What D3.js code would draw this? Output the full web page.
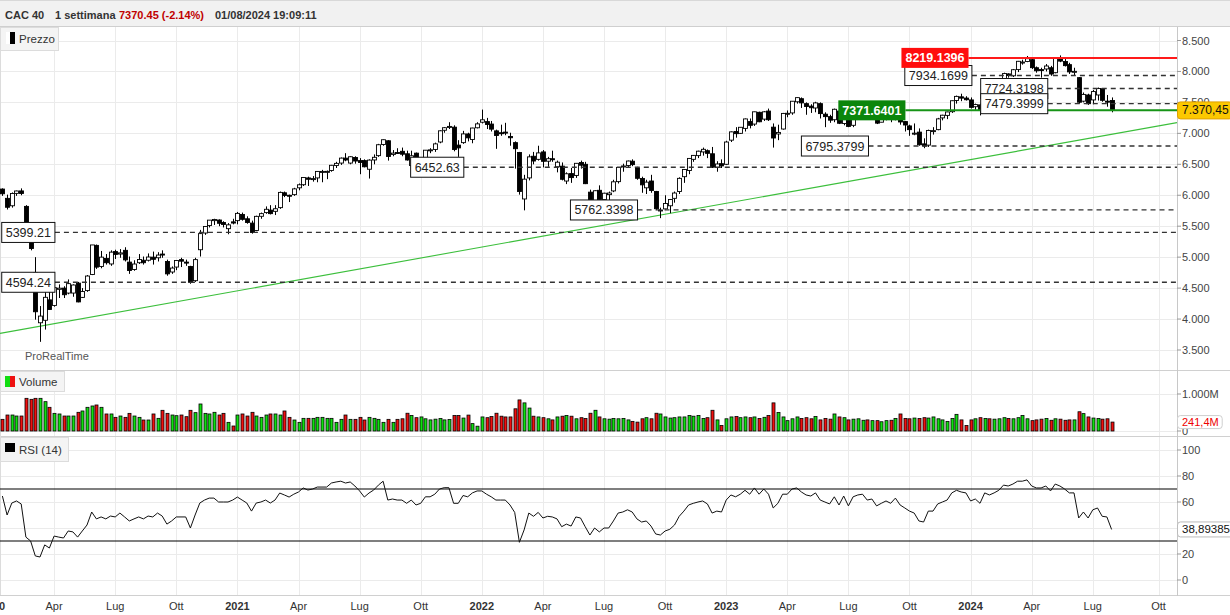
<!DOCTYPE html>
<html><head><meta charset="utf-8">
<script src="https://cdn.jsdelivr.net/npm/d3@7"></script>
<style>
body{margin:0;background:#fff}
svg{display:block}
text{font-family:"Liberation Sans",Arial,Helvetica,sans-serif}
</style>
</head><body>
<svg id="c" width="1230" height="615"></svg>
<script>
// ---------------- DATA ----------------
const firstWeek = "2020-01-20";
const lastWeek = "2024-07-29";

const opens = [
// 2020
6100,5950,5830,6030,6070,5820,5250,4750,3940,3980,
4310,4220,4480,4500,4420,4420,4580,4350,4460,4720,
5190,4850,4980,4890,5090,5050,5110,4920,4800,4910,
4950,4950,5000,4990,5050,4930,4760,4840,4960,4920,
4850,4620,5120,5390,5510,5590,5600,5560,5460,5570,
// 2021
5590,5690,5620,5550,5430,5660,5720,5760,5740,5800,
6040,6000,6010,6120,6170,6280,6260,6280,6380,6380,
6400,6480,6520,6600,6520,6610,6560,6560,6420,6570,
6640,6820,6880,6660,6690,6710,6670,6480,6680,6520,
6550,6720,6740,6860,7050,7110,7100,6810,6850,6990,
6900,7090,
// 2022
7180,7190,7150,7040,7010,7020,6950,6850,6690,5940,
6280,6630,6580,6700,6550,6590,6460,6470,6230,6350,
6320,6530,6500,6050,5910,6080,5930,6010,6070,6220,
6460,6480,6550,6440,6270,6120,6230,6060,5760,5780,
5830,5950,6060,6300,6400,6580,6640,6700,6720,6670,
6450,6510,
// 2023
6500,6890,7030,7000,7080,7190,7150,7340,7230,7360,
7100,6990,7070,7320,7330,7510,7560,7480,7440,7410,
7480,7310,7270,7220,7360,7160,7400,7130,7350,7400,
7470,7320,7330,7180,7230,7290,7250,7360,7190,7120,
6990,7020,6830,6810,7030,7060,7250,7290,7350,7530,
7590,7570,
// 2024
7540,7430,7460,7400,7630,7600,7650,7760,7960,7930,
8030,8150,8160,8190,8060,8030,8040,8060,7980,8220,
8160,8110,7990,7900,7520,7620,7540,7620,7720,7520,
7530
];

const highs = [
// 2020
6111,6010,6045,6075,6111,5840,5450,5000,4210,4520,
4440,4550,4560,4530,4640,4560,4600,4500,4710,5197,
5204,5100,5050,5110,5120,5130,5160,5010,4950,5050,
5010,5060,5090,5080,5110,4960,4850,4950,4990,4960,
4860,4990,5440,5500,5600,5620,5610,5580,5550,5620,
// 2021
5730,5720,5660,5590,5670,5720,5820,5840,5840,6060,
6060,6010,6120,6190,6290,6300,6310,6390,6410,6400,
6490,6540,6610,6680,6630,6630,6600,6580,6580,6660,
6830,6900,6890,6730,6760,6770,6720,6720,6690,6600,
6730,6760,6850,7050,7100,7180,7130,6890,7040,7010,
7090,7180,
// 2022
7384,7250,7200,7060,7140,7170,7010,6870,6700,6330,
6660,6700,6800,6730,6620,6720,6560,6530,6370,6440,
6520,6560,6540,6090,6080,6160,6040,6060,6250,6450,
6510,6560,6580,6460,6300,6250,6330,6070,5800,6000,
5940,6060,6290,6420,6600,6650,6720,6770,6740,6780,
6550,6580,
// 2023
6880,7030,7100,7100,7240,7240,7350,7350,7360,7400,
7160,7140,7330,7370,7520,7580,7580,7500,7470,7510,
7500,7340,7300,7400,7370,7410,7420,7400,7440,7490,
7520,7400,7370,7310,7370,7300,7390,7370,7200,7140,
7160,7080,6920,7060,7100,7250,7300,7350,7530,7610,
7640,7600,
// 2024
7580,7480,7480,7640,7670,7670,7780,7980,7970,8040,
8170,8190,8250,8230,8080,8060,8120,8090,8220,8259,
8200,8140,8060,7910,7660,7640,7700,7740,7720,7620,
7580
];

const lows = [
// 2020
5990,5770,5800,5990,6000,5262,5110,3990,3632,3830,
4150,4200,4340,4340,4400,4360,4270,4340,4440,4710,
4810,4820,4880,4860,4970,4990,4930,4730,4780,4890,
4880,4930,4880,4930,4990,4700,4730,4790,4840,4860,
4570,4600,5010,5360,5480,5520,5500,5480,5370,5530,
// 2021
5530,5590,5540,5380,5420,5620,5700,5690,5680,5780,
5970,5890,5990,6080,6150,6150,6220,6210,6210,6260,
6380,6440,6490,6550,6500,6510,6340,6450,6270,6500,
6620,6800,6560,6630,6670,6630,6560,6420,6460,6400,
6510,6680,6700,6840,7010,7070,6710,6620,6830,6870,
6840,7080,
// 2022
7160,7070,7030,6750,6960,6970,6800,6430,6010,5756,
6240,6500,6560,6450,6460,6540,6370,6240,6180,6200,
6280,6430,6180,5830,5880,5880,5760,5850,6050,6190,
6380,6450,6470,6250,6040,6020,6040,5760,5630,5770,
5710,5880,6020,6200,6340,6540,6600,6640,6600,6440,
6380,6440,
// 2023
6490,6860,6930,6990,7030,7080,7120,7180,7200,7200,
6770,6890,7060,7260,7300,7480,7410,7300,7330,7340,
7240,7100,7170,7180,7150,7130,7100,7100,7290,7280,
7290,7250,7150,7180,7210,7180,7210,7140,7030,6960,
6970,6800,6760,6780,6980,7050,7210,7230,7330,7480,
7520,7530,
// 2024
7400,7380,7290,7380,7580,7580,7640,7700,7900,7910,
7990,8110,8150,8040,7980,7900,8000,7930,7970,8150,
8080,7960,7930,7480,7500,7460,7470,7530,7510,7430,
7340
];

const closes = [
// 2020
6024,5806,6029,6069,6029,5310,5139,4118,4048,4351,
4154,4507,4499,4393,4572,4550,4277,4445,4695,5197,
4839,5000,4910,5081,5044,5069,4956,4784,4889,4962,
4910,5002,4965,5034,5039,4730,4824,4946,4935,4909,
4594,4960,5380,5496,5598,5609,5547,5528,5522,5551,
// 2021
5707,5611,5559,5399,5659,5703,5773,5703,5782,6046,
5997,5989,6103,6169,6287,6258,6269,6385,6385,6386,
6484,6515,6600,6569,6622,6553,6530,6460,6568,6613,
6816,6897,6626,6681,6689,6663,6570,6638,6518,6560,
6728,6734,6830,7041,7091,7112,6739,6765,6991,6927,
7086,7153,
// 2022
7219,7143,7068,6965,7006,7011,6929,6752,6061,6260,
6620,6553,6684,6548,6590,6581,6534,6258,6347,6285,
6516,6485,6187,5882,6073,5931,6033,6036,6217,6449,
6473,6553,6495,6274,6168,6212,6077,5783,5762,5866,
5931,6036,6273,6416,6595,6644,6712,6742,6677,6453,
6505,6474,
// 2023
6860,7024,6995,7098,7233,7130,7348,7187,7348,7220,
6925,7015,7322,7324,7519,7577,7492,7433,7414,7492,
7319,7270,7213,7389,7163,7400,7112,7373,7432,7477,
7316,7341,7165,7229,7296,7241,7379,7184,7135,7060,
7003,6816,6795,7047,7044,7234,7293,7346,7527,7597,
7569,7543,
// 2024
7420,7465,7372,7635,7592,7648,7768,7966,7934,8028,
8164,8152,8206,8061,8011,8022,8088,7958,8219,8167,
8094,7993,8002,7503,7629,7479,7675,7724,7534,7517,
7370.45
];

// weekly volume, millions
const volumes = [
// 2020
315,432,432,405,405,883,856,883,883,793,
640,477,460,405,405,405,505,541,640,676,
703,640,460,460,369,405,369,477,405,369,
297,297,460,342,559,477,432,414,432,387,
559,496,730,477,460,505,432,477,234,135,
// 2021
432,460,405,505,405,369,432,460,460,432,
541,369,297,234,342,342,342,369,369,342,
342,234,315,432,315,315,369,297,369,342,
315,234,315,234,315,330,480,420,360,380,
330,300,320,340,300,310,420,420,350,430,
200,130,
// 2022
380,360,390,480,400,380,380,600,840,760,
620,400,380,360,330,300,380,400,420,400,
330,360,340,480,560,380,330,320,340,330,
340,300,260,240,330,360,330,480,460,380,
350,360,380,380,420,400,420,340,360,560,
300,150,
// 2023
330,380,390,360,380,360,380,340,370,420,
760,500,380,280,330,380,340,360,330,390,
300,340,320,460,380,360,300,320,330,290,
300,280,280,250,280,290,340,460,340,330,
350,340,360,350,380,330,300,260,340,450,
300,150,
// 2024
300,330,360,340,330,320,330,360,340,330,
360,420,330,280,300,320,340,290,330,320,
290,300,300,520,470,380,350,340,320,330,
241.4
];

const rsi = [
// 2020
64.6,50,59.2,60.8,58.5,33,30,18.5,17.7,27,
24.6,33.8,33,32.3,37.7,37,33,37.7,42.3,52.3,
47,48.5,47,49.2,48.5,51.5,48.5,45.4,47,48.5,
47,49.2,48.5,51.5,49.2,43,45.4,48.5,48.5,48.5,
40,50,59.2,61.5,63,63,60,60,60,61.5,
// 2021
63.8,61.5,59.2,53,59.2,60,61.5,59.2,61.5,66.9,
65.4,63.8,66,67.7,70.8,69.2,70,71.5,71.5,71.5,
74.6,75.4,76,74.6,75.4,72.3,68.5,63.8,66.9,69.2,
73,76,61.5,62.3,61.5,61.5,59,61.5,57.7,59,
64,64,66,70,71,71,59,59,65,64,
67,68.5,
// 2022
68.5,66,64,61.5,61.5,61.5,57.7,52,29,38.5,
51.5,49,52,47.7,49,48.5,47,41,43,41.5,
48.5,47.7,41,34.6,40,37,40,40,45.4,51.5,
52.3,54,52.3,47,44.6,45.4,41.5,35.4,34.6,37.7,
39,42.3,49,53,57.7,59,60,60.8,58.5,51.5,
53,52.3,
// 2023
61.5,65.4,64,66,69,66,70.8,66,70,66,
55.4,59,66,66,70,70.8,67.7,65.4,64.6,67,
61.5,60,58.5,64,57.7,64.6,57,64,65.4,66,
61.5,62.3,57,59,60.8,59,63,57.7,55.4,53,
51.5,45.4,44.6,53,53,58.5,60,61.5,67,69,
67.7,67,
// 2024
60.8,62.3,59,67,65.4,67,69,73,72.3,73.8,
76,76,77,72.3,70.8,70.8,72.3,68.5,73.8,72.3,
70,67,67,47.7,52.3,47.7,54,55.4,49,48.5,
38.89385
];

const priceTicks = [3500,4000,4500,5000,5500,6000,6500,7000,7500,8000,8500];
const volumeTicks = [0,1000];
const rsiTicks = [0,20,40,60,80,100];
const rsiTickLabels = ["0","20","","60","80","100"]; // 40 is hidden behind the value badge
const rsiBands = [70,30];
const years = [2020,2021,2022,2023,2024];
const quarterMonthNames = ["Apr","Lug","Ott"];

// horizontal levels drawn on the chart
const levelLabels = ["7934.1699","7724.3198","7479.3999","6795.3799","6452.63","5762.3398","5399.21","4594.24"];
const levelLabelDates = ["2023-09-25","2024-01-16","2024-01-16","2023-04-24","2021-09-19","2022-05-15","2020-01-19","2020-01-19"];
const resistanceLabel = "8219.1396", resistanceDate = "2023-09-20";
const supportLabel = "7371.6401", supportDate = "2023-06-18";
const trendDates = ["2020-01-17","2024-10-31"];
const trendPrices = [3770, 7167];

const lastPrice = 7370.45, lastVolume = 241.4, lastRsi = 38.89385;

// ---------------- CHART ----------------
const svg = d3.select("#c");
const plotR = 1177;
const P = {top:27, bottom:370}, V = {top:372, bottom:436}, R = {top:437, bottom:595};
const itFmt = d3.formatLocale({decimal:",", thousands:".", grouping:[3], currency:["€",""]});
const fInt = itFmt.format(",.0f");
const utc = s => new Date(s + "T00:00:00Z");

const weeks = d3.utcMonday.range(utc(firstWeek), d3.utcDay.offset(utc(lastWeek), 1));
const n = Math.min(weeks.length, opens.length, highs.length, lows.length, closes.length);
const data = d3.range(n).map(i => ({date:weeks[i], o:opens[i], h:highs[i], l:lows[i], c:closes[i], v:volumes[i], r:rsi[i]}));

const x = d3.scaleUtc().domain([new Date(Date.UTC(2020,2,16)), new Date(Date.UTC(2024,9,7))]).range([40, 1158.6]);
const yP = d3.scaleLinear().domain([3500,8500]).range([350,40.5]);
const yV = d3.scaleLinear().domain([0,1000]).range([431,394]);
const yR = d3.scaleLinear().domain([0,100]).range([580,450]);

// background / header
svg.append("rect").attr("width",1230).attr("height",615).attr("fill","#fff");
svg.append("rect").attr("x",0).attr("y",0).attr("width",1230).attr("height",26).attr("fill","#f1f1f1");
svg.append("line").attr("x1",0).attr("x2",1230).attr("y1",0.5).attr("y2",0.5).attr("stroke","#d8d8d8");
svg.append("line").attr("x1",0).attr("x2",1230).attr("y1",26.5).attr("y2",26.5).attr("stroke","#cfcfcf");
const hdr = svg.append("text").attr("y",19).attr("font-size",11).attr("font-weight","bold").attr("fill","#333");
hdr.append("tspan").attr("x",5).text("CAC 40");
hdr.append("tspan").attr("x",55).text("1 settimana");
hdr.append("tspan").attr("x",119).attr("fill","#c00000").text("7370.45 (-2.14%)");
hdr.append("tspan").attr("x",215).text("01/08/2024 19:09:11");

// clip paths
const defs = svg.append("defs");
[["clipP",P],["clipV",V],["clipR",R]].forEach(([id,p]) => {
  defs.append("clipPath").attr("id",id).append("rect").attr("x",0).attr("y",p.top).attr("width",plotR).attr("height",p.bottom-p.top);
});

// grid
const grid = svg.append("g").attr("stroke","#ebebeb").attr("stroke-width",1);
const quarterDates = [];
years.forEach(yv => [0,3,6,9].forEach(m => {
  const d = d3.utcMonday.ceil(new Date(Date.UTC(yv,m,1)));
  quarterDates.push({d, label: m===0 ? String(yv) : quarterMonthNames[m/3-1], year: m===0});
}));
quarterDates.forEach(q => {
  const xx = Math.round(x(q.d))+0.5;
  if (xx > 0 && xx < plotR) grid.append("line").attr("x1",xx).attr("x2",xx).attr("y1",P.top).attr("y2",R.bottom);
});
priceTicks.forEach(t => grid.append("line").attr("x1",0).attr("x2",plotR).attr("y1",Math.round(yP(t))+0.5).attr("y2",Math.round(yP(t))+0.5));
volumeTicks.forEach(t => grid.append("line").attr("x1",0).attr("x2",plotR).attr("y1",Math.round(yV(t))+0.5).attr("y2",Math.round(yV(t))+0.5));
rsiTicks.forEach(t => grid.append("line").attr("x1",0).attr("x2",plotR).attr("y1",Math.round(yR(t))+0.5).attr("y2",Math.round(yR(t))+0.5));

// panel separators & axis line
[370.5, 436.5, 595.5].forEach(yy => svg.append("line").attr("x1",0).attr("x2",1230).attr("y1",yy).attr("y2",yy).attr("stroke","#d0d0d0"));
svg.append("line").attr("x1",plotR+0.5).attr("x2",plotR+0.5).attr("y1",P.top).attr("y2",R.bottom+1).attr("stroke","#c8c8c8");
svg.append("line").attr("x1",0.5).attr("x2",0.5).attr("y1",P.top).attr("y2",R.bottom).attr("stroke","#dcdcdc");

// ----- price panel -----
const gP = svg.append("g").attr("clip-path","url(#clipP)");

// trendline
const tx = trendDates.map(d => x(utc(d))), ty = trendPrices.map(p => yP(p));
const slope = (ty[1]-ty[0])/(tx[1]-tx[0]);
gP.append("line").attr("x1",0).attr("y1",ty[0]+slope*(0-tx[0])).attr("x2",plotR).attr("y2",ty[0]+slope*(plotR-tx[0]))
  .attr("stroke","#3cbf3c").attr("stroke-width",1.1);

// candles
const cw = 3;
const candles = gP.append("g").selectAll("g").data(data).join("g");
candles.append("line")
  .attr("x1",d=>Math.round(x(d.date))+0.5).attr("x2",d=>Math.round(x(d.date))+0.5)
  .attr("y1",d=>yP(d.h)).attr("y2",d=>yP(d.l)).attr("stroke","#000").attr("stroke-width",1);
candles.append("rect")
  .attr("x",d=>Math.round(x(d.date))+0.5-cw/2-0.5).attr("width",cw+1)
  .attr("y",d=>yP(Math.max(d.o,d.c))).attr("height",d=>Math.max(1,Math.abs(yP(d.o)-yP(d.c))))
  .attr("fill",d=>d.c>=d.o?"#fff":"#000").attr("stroke","#000").attr("stroke-width",0.9);

// levels
const levelG = gP.append("g");
const labelG = svg.append("g").attr("font-size",12.5);
function boxLabel(txt, dateStr, yc, opt) {
  const x0 = x(utc(dateStr));
  const t = labelG.append("text").attr("x",x0+4).attr("y",yc+4.5).text(txt)
    .attr("fill",opt.color).attr("font-weight",opt.bold?"bold":"normal");
  const w = t.node().getComputedTextLength() + 8;
  labelG.insert("rect", () => t.node()).attr("x",x0).attr("y",yc-10).attr("width",w).attr("height",20)
    .attr("fill",opt.fill).attr("stroke",opt.stroke||"none").attr("stroke-width",1);
  return x0 + w;
}
levelLabels.forEach((lab,i) => {
  const v = +lab, yy = yP(v);
  const xe = boxLabel(lab, levelLabelDates[i], yy, {color:"#222", fill:"#fff", stroke:"#111"});
  levelG.append("line").attr("x1",xe).attr("x2",plotR).attr("y1",yy).attr("y2",yy)
    .attr("stroke","#333").attr("stroke-width",1.3).attr("stroke-dasharray","5,4");
});
{
  const yy = yP(+resistanceLabel);
  const xe = boxLabel(resistanceLabel, resistanceDate, yy, {color:"#fff", fill:"#ff0d0d", bold:true});
  levelG.append("line").attr("x1",xe).attr("x2",plotR).attr("y1",yy).attr("y2",yy).attr("stroke","#ff1a1a").attr("stroke-width",2);
}
{
  const yy = yP(+supportLabel);
  const xe = boxLabel(supportLabel, supportDate, yy, {color:"#fff", fill:"#0b860b", bold:true});
  levelG.append("line").attr("x1",xe).attr("x2",plotR).attr("y1",yy).attr("y2",yy).attr("stroke","#179417").attr("stroke-width",2);
}

svg.append("text").attr("x",25).attr("y",360).attr("font-size",11).attr("fill","#555").text("ProRealTime");

// ----- volume panel -----
const gV = svg.append("g").attr("clip-path","url(#clipV)");
gV.selectAll("rect").data(data).join("rect")
  .attr("x",d=>Math.round(x(d.date))+0.5-cw/2).attr("width",cw)
  .attr("y",d=>yV(d.v)).attr("height",d=>yV(0)-yV(d.v))
  .attr("fill",d=>d.c>=d.o?"#10e010":"#f01010").attr("stroke","#000").attr("stroke-width",0.8);

// ----- RSI panel -----
const gR = svg.append("g").attr("clip-path","url(#clipR)");
rsiBands.forEach(b => gR.append("line").attr("x1",0).attr("x2",plotR).attr("y1",yR(b)).attr("y2",yR(b)).attr("stroke","#000").attr("stroke-width",1.2));
gR.append("path").datum(data).attr("fill","none").attr("stroke","#111").attr("stroke-width",1)
  .attr("d", d3.line().x(d=>x(d.date)).y(d=>yR(d.r)));

// ----- right axes -----
const ax = svg.append("g").attr("font-size",11).attr("fill","#444");
function tick(yy, label) {
  ax.append("line").attr("x1",plotR).attr("x2",plotR+4).attr("y1",yy).attr("y2",yy).attr("stroke","#999");
  if (label) ax.append("text").attr("x",plotR+5).attr("y",yy+4).text(label);
}
priceTicks.forEach(t => tick(yP(t), fInt(t)));
volumeTicks.forEach(t => tick(yV(t), t===0 ? "0" : fInt(t)+"M"));
rsiTicks.forEach((t,i) => tick(yR(t), rsiTickLabels[i]));

function badge(yc, label, opt) {
  const g = svg.append("g");
  const t = g.append("text").attr("x",plotR+5).attr("y",yc+4).attr("font-size",opt.size).attr("fill",opt.color).text(label);
  const w = t.node().getComputedTextLength() + 8;
  g.insert("rect", () => t.node()).attr("x",plotR+0.5).attr("y",yc-opt.h/2).attr("width",w).attr("height",opt.h)
    .attr("rx",3).attr("fill",opt.fill).attr("stroke",opt.stroke);
}
badge(yP(lastPrice), itFmt.format(",.2f")(lastPrice), {size:12, color:"#111", fill:"#fcc800", stroke:"#e0a000", h:17});
badge(yV(lastVolume), itFmt.format(",.1f")(lastVolume)+"M", {size:11, color:"#ee0000", fill:"#fff", stroke:"#cfcfcf", h:13});
badge(yR(lastRsi), itFmt.format(",.5f")(lastRsi), {size:11.5, color:"#111", fill:"#fff", stroke:"#bbb", h:15});

// ----- x axis labels -----
const xl = svg.append("g").attr("font-size",11).attr("fill","#333").attr("text-anchor","middle");
quarterDates.forEach(q => {
  xl.append("text").attr("x",x(q.d)).attr("y",610).attr("font-weight",q.year?"bold":"normal").text(q.label);
});

// ----- panel labels -----
function panelLabel(y0, h, w, label, icons) {
  const g = svg.append("g");
  g.append("rect").attr("x",0.5).attr("y",y0+0.5).attr("width",w).attr("height",h).attr("fill","#f4f4f4").attr("stroke","#dcdcdc");
  icons.forEach(ic => g.append("rect").attr("x",ic[0]).attr("y",y0+ic[1]).attr("width",ic[2]).attr("height",ic[3]).attr("fill",ic[4]));
  g.append("text").attr("x",19).attr("y",y0+h/2+4.5).attr("font-size",11.5).attr("fill","#333").text(label);
}
panelLabel(P.top, 23, 58, "Prezzo", [[6,5,4,12,"#fff"],[10,5,5,12,"#000"]]);
panelLabel(V.top-1, 20, 64, "Volume", [[5,5,5,11,"#11dd11"],[10,5,5,11,"#ee1111"]]);
panelLabel(R.top, 24, 68, "RSI (14)", [[5,6,10,9,"#000"]]);
</script>
</body></html>
